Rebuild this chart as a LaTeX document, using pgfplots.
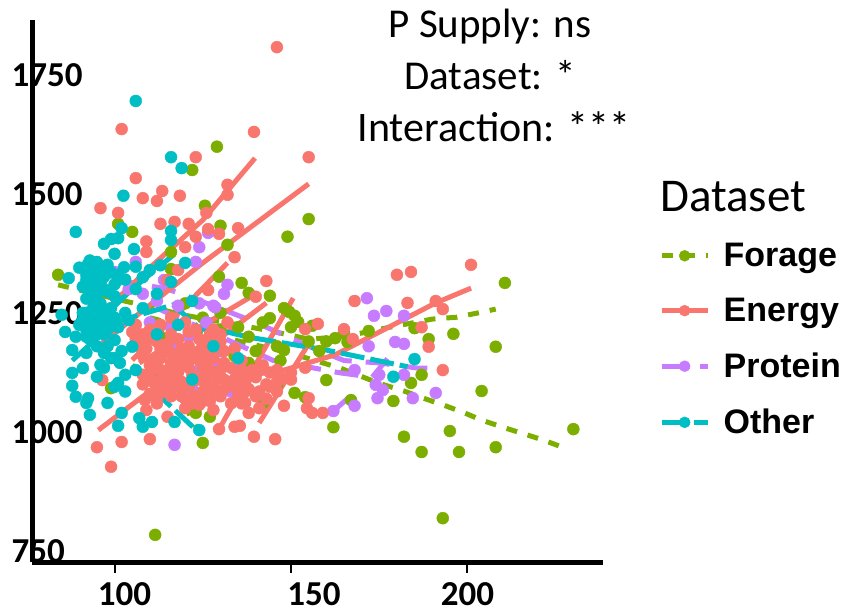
\documentclass[border=0pt]{standalone}
\usepackage{pgfplots}
\usepackage{pgfplotstable}
\usepackage{fontspec}
\setmainfont{Carlito}
\newfontfamily\legfont{Liberation Sans}
\pgfplotsset{compat=1.18}
\definecolor{cF}{HTML}{7CAE00}
\definecolor{cE}{HTML}{F8766D}
\definecolor{cP}{HTML}{C77CFF}
\definecolor{cO}{HTML}{00BFC4}
\pgfplotstableread{
x y
129 1599
122 1550
155 1447
149 1410
101 1437
105 1420
125.6 1475
130 1433
132 1393
116 1378
116 1342
129.6 1326
84 1330
136 1313
144 1286
138 1292
148 1260
99 1092
142 1061
151 1082
146 1099
160 1109
154 1073
127 1032
125 977
111.5 784
210.6 1313
144 1239
151 1244
152 1231
156 1223
149.5 1252
185 1218
172 1212
162.5 1197
166 1189
196 1206
189 1195
208 1179
148 1172
187 1120
184 1103
179 1065
204 1086
167 1067
162 1010
182 990
195 1002
187 958
197.6 958
208 968
230 1006
193 819
130 1250
135 1220
138 1200
140 1170
134 1160
138 1145
128 1135
112 1120
113 1200
120 1270
125 1240
130 1215
142 1230
146 1180
147 1150
150 1220
155 1190
158 1170
160 1190
165 1210
123 1040
118 1100
}\forage
\pgfplotstableread{
x y
146 1808
102 1636
139.5 1630
123 1577
106 1533
113.5 1506
108 1491
112 1485
118.5 1496
155 1577
96 1470
101 1460
113 1437
117 1441
121 1437
126 1460
132 1498
132 1519
135 1428
126.5 1426
129.6 1416
123 1410
109 1400
109 1378
120 1388
134 1367
118 1340
143 1317
115 1319
126.5 1298
140 1284
96.5 1109
115 1032
110 985
102 979
95 968
99 927
129.6 1006
134 1011
135.5 1013
139.5 990
145.5 985
148 1055
155 1071
156 1040
159 1040
154.5 1050
138 1040
137 1061
128 1046
124 1057
108.6 1067
109 1046
201 1351
180 1330
184 1336
168 1275
183 1271
191 1275
193 1258
157.6 1227
154 1216
165 1216
187 1220
167.5 1195
189 1179
193 1130
106 1225
108 1205
110 1215
107 1180
112 1190
108 1160
111 1150
114 1170
116 1205
118 1225
110 1125
113 1130
116 1145
119 1160
121 1180
108 1100
112 1095
115 1110
118 1125
121 1135
124 1150
126 1120
122 1105
119 1090
116 1075
112 1070
120 1070
125 1085
128 1100
131 1110
134 1095
137 1105
140 1115
143 1100
130 1075
135 1075
126 1170
130 1190
134 1175
124 1195
128 1215
132 1230
136 1150
146 1130
150 1125
154 1135
142 1140
136 1060
141 1050
144 1095
147 1115
106 1195
109 1175
112 1210
115 1185
118 1195
121 1210
124 1170
127 1190
110 1140
113 1155
116 1115
119 1105
122 1120
125 1135
128 1155
131 1145
108 1120
111 1105
114 1085
117 1095
120 1050
123 1075
126 1100
129 1120
132 1095
135 1120
138 1090
141 1085
127 1065
133 1060
146 1105
150 1110
112 1060
110 1080
121 1150
118 1145
126 1150
131 1170
105 1210
107 1190
110 1195
113 1175
116 1165
119 1175
122 1165
125 1180
128 1175
112 1140
115 1130
118 1110
121 1095
124 1110
127 1130
130 1130
133 1135
136 1130
139 1130
110 1110
113 1110
116 1095
119 1075
122 1060
125 1065
128 1085
131 1090
134 1110
137 1085
113 1225
116 1240
120 1230
123 1215
127 1205
130 1205
144 1125
140 1075
143 1070
146 1085
}\energy
\pgfplotstableread{
x y
126.5 1418
124 1388
123 1357
106 1357
114 1319
100 1336
101 1319
132 1309
128.5 1262
117 973
171.5 1281
173.5 1244
177 1254
182 1244
179.5 1189
182 1185
182 1120
174 1099
174.5 1071
176 1088
184.5 1071
191 1082
162 1044
168 1055
104 1300
108 1290
112 1275
118 1265
124 1270
128 1265
131 1290
116 1220
121 1200
126 1230
130 1170
128 1150
134 1130
110 1230
118 1180
114 1100
124 1130
133 1085
122 1090
128 1215
135 1100
172 1180
175 1120
168 1130
}\protein
\pgfplotstableread{
x y
106 1695
116 1577
119 1554
102.5 1496
89 1420
102 1428
116 1422
116 1403
97 1395
99 1405
101 1407
105.5 1384
100 1374
120 1355
92.5 1353
95 1357
98 1351
102.7 1346
106 1347
87 1323
92 1319
97 1326
93 1302
94.5 1271
96 1313
85 1246
86 1210
89 1200
88 1172
92 1200
92 1166
97 1166
100 1193
105 1179
96 1141
99 1155
101.5 1145
91 1134
88 1124
95 1116
88 1097
101 1103
89 1074
92.5 1071
92 1061
98 1061
93 1036
102 1040
107 1029
110.6 1021
101 1013
108 1011
117 1021
124 1004
185 1153
179 1116
92 1215
93 1240
94 1225
95 1205
96 1250
97 1230
98 1215
99 1260
100 1240
93 1195
90 1225
91 1250
92 1280
95 1290
97 1300
99 1335
101 1330
103 1320
106 1300
103 1250
108 1260
112 1290
92 1330
94 1340
96 1320
94 1310
98 1295
100 1310
101 1220
104 1235
95 1180
98 1180
100 1155
102 1170
103 1120
106 1130
97 1135
103 1085
100 1095
112 1205
118 1225
122 1110
128 1180
135 1155
116 1315
122 1275
110 1340
113 1350
108 1325
92 1250
94 1262
96 1235
98 1245
93 1212
95 1225
97 1205
99 1225
91 1235
96 1270
94 1285
90 1345
93 1360
96 1345
97 1335
94 1325
91 1305
100 1285
}\other
\begin{document}
\begin{tikzpicture}[x=1pt,y=1pt]
\useasboundingbox (0,0) rectangle (845,613);
\begin{axis}[
  at={(32pt,51pt)}, anchor=origin,
  scale only axis, width=571pt, height=542pt,
  xmin=76.6, xmax=238.4, ymin=727, ymax=1865,
  axis x line*=bottom, axis y line*=left,
  axis line style={line width=5pt,-},
  xtick={100,150,200}, ytick={750,1000,1250,1500,1750},
  xticklabels={\hspace{20pt}100,\hspace{46pt}150,200},
  tick align=outside,
  x tick style={black,line width=2pt},
  y tick style={draw=none},
  x tick label style={yshift=-6pt},
  major tick length=11pt,
  /pgf/number format/assume math mode=true,
  /pgf/number format/1000 sep={},
  tick label style={font=\fontsize{35}{35}\selectfont\bfseries},
  yticklabel style={anchor=west,xshift=-13pt},
  clip=false,
  legend cell align=left,
  legend style={at={(1.098,0.592)},anchor=north west,draw=none,fill=none,
    font=\fontsize{34}{34}\selectfont\legfont\bfseries,row sep=26pt,inner sep=0pt},
  legend image code/.code={
    \path[draw=none] (0pt,0pt) -- (60pt,0pt);
    \draw[#1,line width=5pt] (0pt,0pt) -- (46pt,0pt);
    \fill[#1,solid] (23pt,0pt) circle (5.5pt);},
]
\addlegendimage{cF,dash pattern=on 11pt off 11pt}
\addlegendentry{Forage}
\addlegendimage{cE}
\addlegendentry{Energy}
\addlegendimage{cP,dash pattern=on 28pt off 10pt}
\addlegendentry{Protein}
\addlegendimage{cO,dash pattern=on 28pt off 4pt}
\addlegendentry{Other}

\addplot[forget plot,only marks,mark=*,mark size=6pt,cF,mark options={draw=none,fill=cF}] table {\forage};
\addplot[forget plot,only marks,mark=*,mark size=6pt,cP,mark options={draw=none,fill=cP}] table {\protein};
\addplot[forget plot,only marks,mark=*,mark size=6pt,cE,mark options={draw=none,fill=cE}] table {\energy};
\addplot[forget plot,only marks,mark=*,mark size=6pt,cO,mark options={draw=none,fill=cO}] table {\other};

% forage curves
\addplot[forget plot,cF,line width=5pt,dash pattern=on 11pt off 11pt] coordinates {(84,1309)(100,1280)(120,1245)(143,1214)(155,1195)(165,1200)(178,1220)(190,1237)(197,1241)(203,1250)(208,1258)};
\addplot[forget plot,cF,line width=5pt,dash pattern=on 11pt off 11pt] coordinates {(110,1240)(130,1200)(150,1165)(164,1134)(174.6,1103)(182,1086)(187.5,1071)(193,1057)(198.5,1042)(204,1025)(210,1010)(216,996)(221.5,983)(227.6,966)};
\addplot[forget plot,cF,line width=5pt,dash pattern=on 11pt off 11pt] coordinates {(105,1140)(115,1090)(121,1040)(125,985)};
% protein curves
\addplot[forget plot,cP,line width=5pt,dash pattern=on 24pt off 14pt] coordinates {(100,1320)(115,1300)(128,1265)(140,1230)(155,1180)(165,1150)(175,1145)(186,1134)(194,1134)};
\addplot[forget plot,cP,line width=5pt,dash pattern=on 24pt off 14pt] coordinates {(112,1260)(130,1200)(145,1150)(164,1124)(173,1115)(178,1160)};
\addplot[forget plot,cP,line width=5pt] coordinates {(162,1044)(166,1070)(168,1055)};
% energy lines
\addplot[forget plot,cE,line width=5pt] coordinates {(93.6,1229)(110,1345)(125,1445)(139.8,1575)};
\addplot[forget plot,cE,line width=5pt] coordinates {(96.5,1187)(125,1355)(155,1521)};
\addplot[forget plot,cE,line width=5pt] coordinates {(95.4,1004)(143,1271)};
\addplot[forget plot,cE,line width=5pt] coordinates {(105,1151)(132,1355)};
\addplot[forget plot,cE,line width=5pt] coordinates {(107,1145)(140.5,1292)};
\addplot[forget plot,cE,line width=5pt] coordinates {(130,1011)(150.6,1281)};
\addplot[forget plot,cE,line width=5pt] coordinates {(141,1019)(156,1197)};
\addplot[forget plot,cE,line width=5pt] coordinates {(112,1090)(148,1130)(162.5,1162)(191,1271)(201,1302)};
\addplot[forget plot,cE,line width=5pt] coordinates {(124,1137)(142,1124)};
% other curves
\addplot[forget plot,cO,line width=5pt,dash pattern=on 24pt off 6pt] coordinates {(93,1214)(105,1300)(117.7,1378)};
\addplot[forget plot,cO,line width=5pt,dash pattern=on 24pt off 6pt] coordinates {(100,1230)(116.6,1267)(124,1218)(133,1208)(138,1199)(160,1172)(183,1137)};
\addplot[forget plot,cO,line width=5pt,dash pattern=on 24pt off 6pt] coordinates {(111,1088)(124,998)};
\addplot[forget plot,cO,line width=5pt,dash pattern=on 24pt off 6pt] coordinates {(88,1150)(100,1230)};
\end{axis}
\node[anchor=center,font=\fontsize{41}{41}\selectfont] at (490,586) {P Supply: ns};
\node[anchor=center,font=\fontsize{41}{41}\selectfont] at (490,538) {Dataset: *};
\node[anchor=center,font=\fontsize{42}{42}\selectfont] at (494,486) {Interaction: ***};
\node[anchor=west,font=\fontsize{47}{47}\selectfont,inner sep=0pt] at (660,416) {Dataset};
\end{tikzpicture}
\end{document}
